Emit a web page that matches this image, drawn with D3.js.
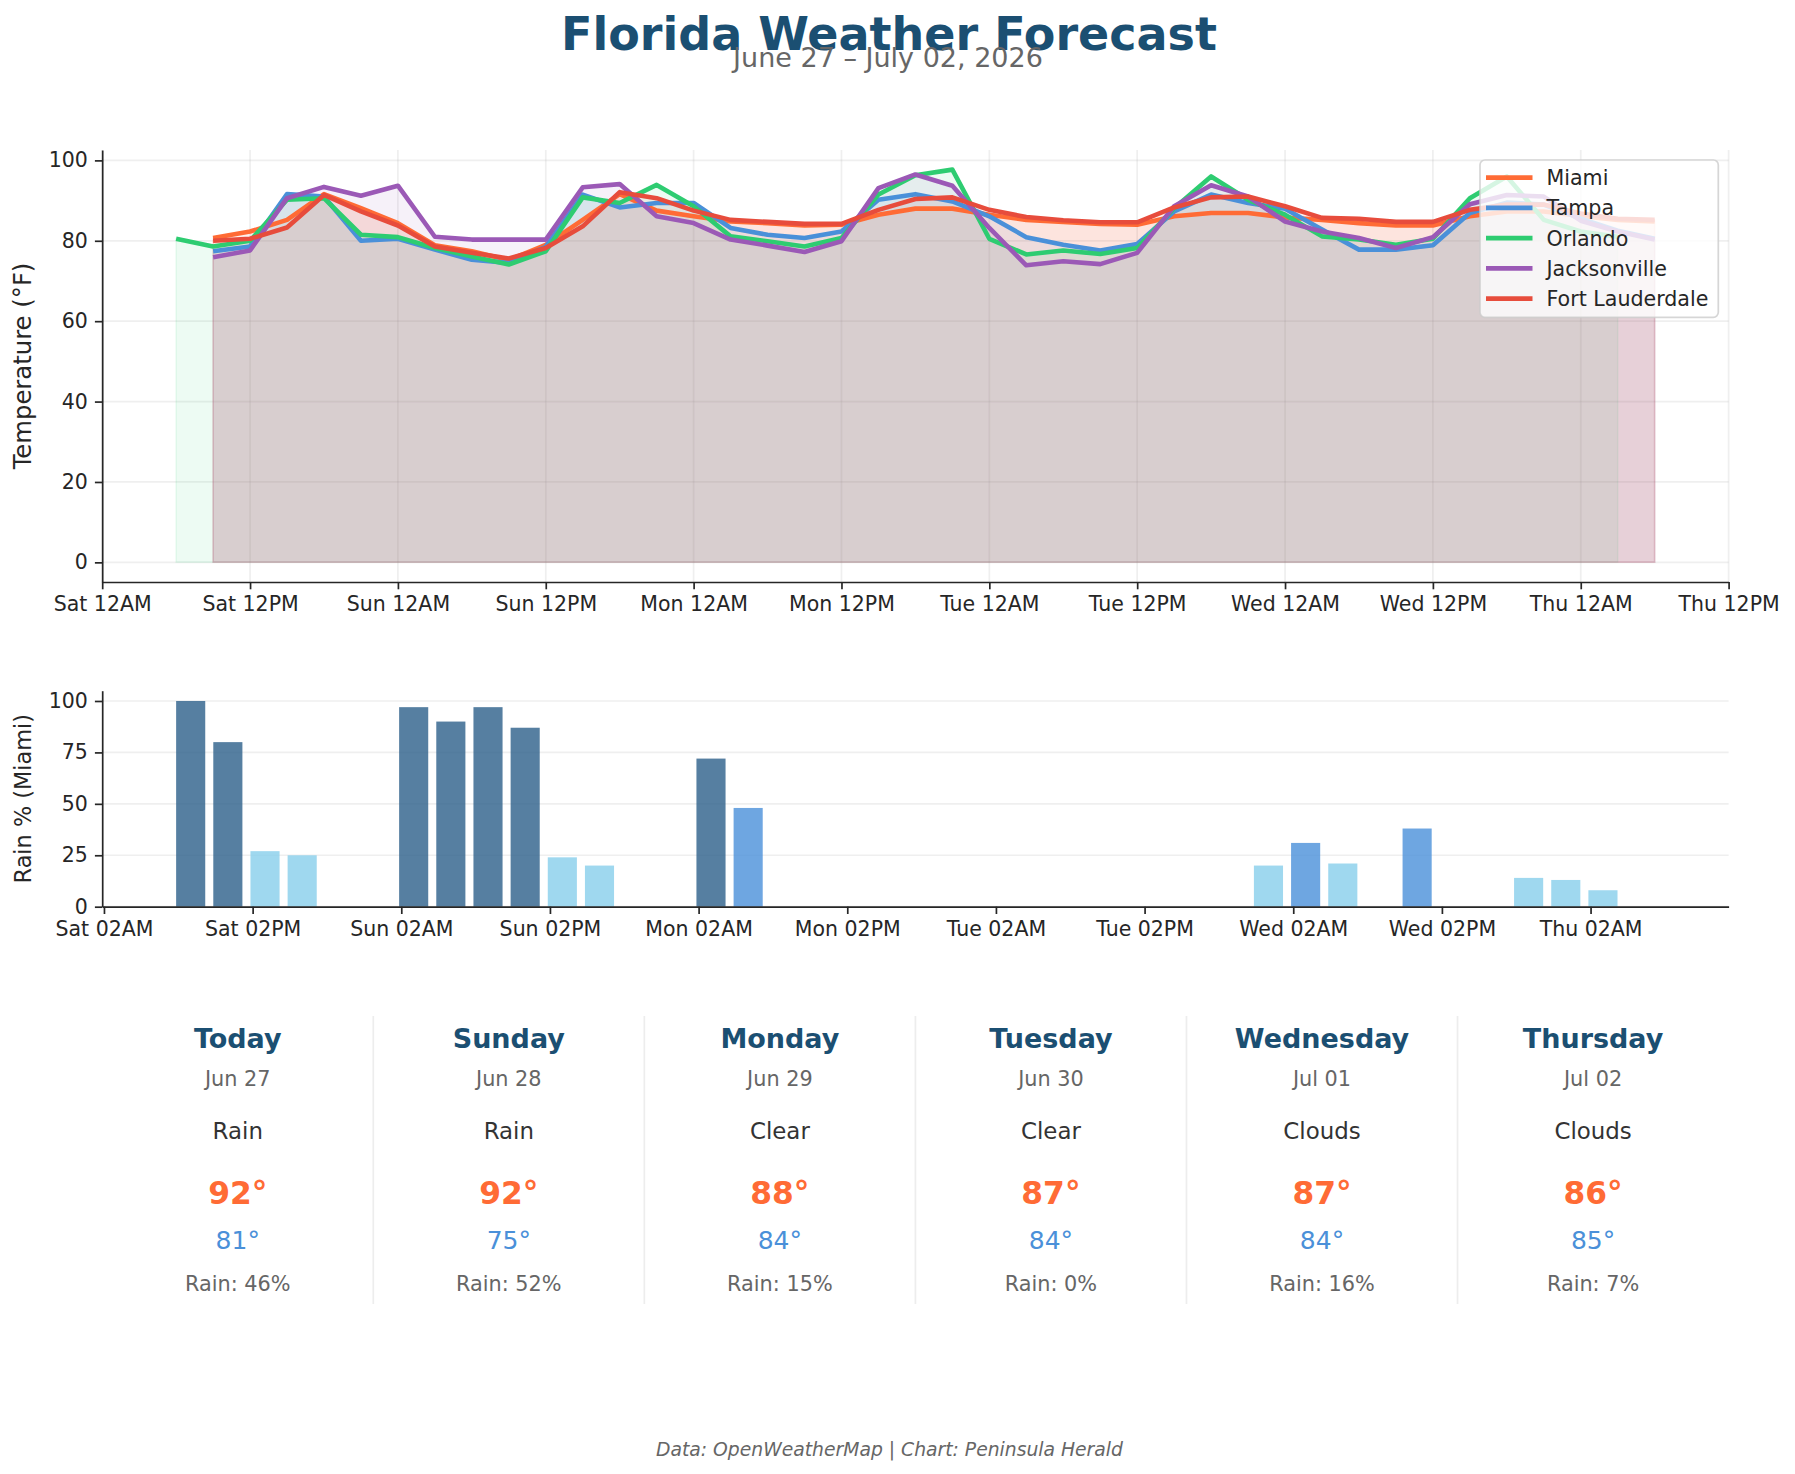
<!DOCTYPE html>
<html>
<head>
<meta charset="utf-8">
<script src="https://cdn.jsdelivr.net/npm/d3@7"></script>
<style>
    body { margin: 0; background: #fff; }
    svg { display: block; font-family: 'DejaVu Sans', sans-serif; }
</style>
</head>
<body>
<div id="canvas"></div>
<script>
// ---- data (hours counted from Sat Jun 27, 12AM) ----
let cities = ['Miami', 'Tampa', 'Orlando', 'Jacksonville', 'Fort Lauderdale']
let cityColors = ['#ff6b35', '#4a90d9', '#2ecc71', '#9b59b6', '#e74c3c']

let hoursMain = [9, 12, 15, 18, 21, 24, 27, 30, 33, 36, 39, 42, 45, 48, 51, 54, 57, 60, 63, 66,
    69, 72, 75, 78, 81, 84, 87, 90, 93, 96, 99, 102, 105, 108, 111, 114, 117, 120, 123, 126]
let hoursOrlando = [6, 9, 12, 15, 18, 21, 24, 27, 30, 33, 36, 39, 42, 45, 48, 51, 54, 57, 60, 63,
    66, 69, 72, 75, 78, 81, 84, 87, 90, 93, 96, 99, 102, 105, 108, 111, 114, 117, 120, 123]

let tempMiami = [80.7, 82.3, 85.2, 91.6, 88.1, 84.4, 78.9, 77.4, 75.2, 79.0, 85.2, 91.6, 87.5, 86.1,
    84.8, 84.4, 83.8, 84.0, 86.5, 88.0, 88.0, 86.5, 85.2, 84.7, 84.2, 84.0, 86.1, 86.9, 86.9, 85.8,
    85.2, 84.4, 83.8, 83.8, 86.1, 87.3, 87.3, 86.2, 85.2, 84.8]
let tempTampa = [77.4, 78.6, 91.6, 91.0, 80.0, 80.5, 77.8, 75.3, 74.5, 78.5, 91.5, 88.3, 89.4, 89.4,
    83.2, 81.5, 80.7, 82.3, 90.2, 91.6, 89.8, 86.1, 80.9, 79.0, 77.6, 79.2, 87.3, 91.5, 89.4, 88.0,
    82.8, 77.8, 77.8, 78.9, 86.9, 89.5, 89.0, 85.5, 82.5, 80.5]
let tempOrlando = [80.5, 78.6, 80.0, 90.2, 90.6, 81.5, 80.9, 78.2, 76.1, 74.1, 77.4, 90.8, 89.4, 93.9,
    88.6, 81.1, 79.9, 78.6, 80.7, 91.5, 96.3, 97.7, 80.5, 76.6, 77.6, 76.7, 78.2, 88.1, 96.0, 90.2,
    86.5, 81.1, 80.3, 79.0, 80.5, 90.6, 96.0, 85.2, 82.3, 81.0]
let tempJacksonville = [75.9, 77.6, 90.6, 93.4, 91.2, 93.7, 81.0, 80.3, 80.3, 80.3, 93.3, 94.1, 86.1,
    84.4, 80.3, 78.8, 77.2, 79.9, 93.1, 96.5, 93.7, 83.2, 73.9, 74.9, 74.2, 77.0, 88.6, 93.8, 91.0,
    84.8, 82.3, 80.7, 78.2, 80.9, 89.1, 91.4, 91.0, 85.0, 82.3, 80.3]
let tempFortLauderdale = [80.0, 80.5, 83.3, 91.4, 87.3, 83.8, 78.6, 77.0, 75.6, 78.2, 83.6, 92.1, 90.6,
    87.5, 85.2, 84.7, 84.2, 84.2, 87.7, 90.4, 90.8, 87.7, 85.9, 85.1, 84.6, 84.6, 88.3, 90.8, 91.0,
    88.6, 85.7, 85.5, 84.7, 84.7, 87.7, 89.0, 89.0, 86.8, 85.5, 85.2]

let rainMiami = [100, 80, 27, 25, 0, 0, 97, 90, 97, 87, 24, 20, 0, 0, 72, 48, 0, 0, 0, 0,
    0, 0, 0, 0, 0, 0, 0, 0, 0, 20, 31, 21, 0, 38, 0, 0, 14, 13, 8, 0]

let tempTickHours = [0, 12, 24, 36, 48, 60, 72, 84, 96, 108, 120, 132]
let tempTickLabels = ['Sat 12AM', 'Sat 12PM', 'Sun 12AM', 'Sun 12PM', 'Mon 12AM', 'Mon 12PM',
    'Tue 12AM', 'Tue 12PM', 'Wed 12AM', 'Wed 12PM', 'Thu 12AM', 'Thu 12PM']
let tempYTicks = [0, 20, 40, 60, 80, 100]

let rainTickHours = [2, 14, 26, 38, 50, 62, 74, 86, 98, 110, 122]
let rainTickLabels = ['Sat 02AM', 'Sat 02PM', 'Sun 02AM', 'Sun 02PM', 'Mon 02AM', 'Mon 02PM',
    'Tue 02AM', 'Tue 02PM', 'Wed 02AM', 'Wed 02PM', 'Thu 02AM']
let rainYTicks = [0, 25, 50, 75, 100]

let dayNames = ['Today', 'Sunday', 'Monday', 'Tuesday', 'Wednesday', 'Thursday']
let dayDates = ['Jun 27', 'Jun 28', 'Jun 29', 'Jun 30', 'Jul 01', 'Jul 02']
let dayConditions = ['Rain', 'Rain', 'Clear', 'Clear', 'Clouds', 'Clouds']
let dayHighs = [92, 92, 88, 87, 87, 86]
let dayLows = [81, 75, 84, 84, 84, 85]
let dayRain = [46, 52, 15, 0, 16, 7]

let series = [
    {hours: hoursMain, temps: tempMiami},
    {hours: hoursMain, temps: tempTampa},
    {hours: hoursOrlando, temps: tempOrlando},
    {hours: hoursMain, temps: tempJacksonville},
    {hours: hoursMain, temps: tempFortLauderdale},
]

// ---- layout ----
let width = 1795
let height = 1474
let left = 102.2
let right = 1728.6
let top1 = 150, bottom1 = 582
let top2 = 690.7, bottom2 = 906.7
let ink = '#262626'
let tickFont = '20.5px'

let svg = d3.select('#canvas').append('svg')
    .attr('width', width)
    .attr('height', height)

function styleAxis(g) {
    g.select('.domain').attr('stroke', ink).attr('stroke-width', 1.7)
    g.selectAll('.tick line').attr('stroke', ink).attr('stroke-width', 1.7)
    g.selectAll('.tick text')
        .attr('fill', ink)
        .style('font-size', tickFont)
        .style('font-family', 'DejaVu Sans')
}

// ---- temperature chart ----
let allHours = hoursMain.concat(hoursOrlando)
let hMin = d3.min(allHours), hMax = d3.max(allHours)
let hPad = (hMax - hMin) * 0.05
let x1 = d3.scaleLinear().domain([hMin - hPad, hMax + hPad]).range([left, right])

let tMax = d3.max(series, (s) => d3.max(s.temps))
let y1 = d3.scaleLinear().domain([-tMax * 0.05, tMax * 1.05]).range([bottom1, top1])

let g1 = svg.append('g')

// grid
g1.append('g').selectAll('line').data(tempYTicks).enter().append('line')
    .attr('x1', left).attr('x2', right)
    .attr('y1', (d) => y1(d)).attr('y2', (d) => y1(d))
    .attr('stroke', '#b0b0b0').attr('stroke-opacity', 0.2).attr('stroke-width', 1.7)
g1.append('g').selectAll('line').data(tempTickHours).enter().append('line')
    .attr('x1', (d) => x1(d)).attr('x2', (d) => x1(d))
    .attr('y1', top1).attr('y2', bottom1)
    .attr('stroke', '#b0b0b0').attr('stroke-opacity', 0.2).attr('stroke-width', 1.7)

let area = d3.area()
    .x((d) => x1(d[0]))
    .y0(y1(0))
    .y1((d) => y1(d[1]))

let line = d3.line()
    .x((d) => x1(d[0]))
    .y((d) => y1(d[1]))

series.forEach(function (s, i) {
    let pts = s.hours.map((h, j) => [h, s.temps[j]])
    g1.append('path')
        .attr('d', area(pts))
        .attr('fill', cityColors[i])
        .attr('fill-opacity', 0.085)
        .attr('stroke', cityColors[i])
        .attr('stroke-opacity', 0.1)
        .attr('stroke-width', 1.5)
})

series.forEach(function (s, i) {
    let pts = s.hours.map((h, j) => [h, s.temps[j]])
    g1.append('path')
        .attr('d', line(pts))
        .attr('fill', 'none')
        .attr('stroke', cityColors[i])
        .attr('stroke-width', 4.6)
        .attr('stroke-linejoin', 'round')
})

g1.append('g')
    .attr('transform', 'translate(0,' + bottom1 + ')')
    .call(d3.axisBottom(x1).tickValues(tempTickHours)
        .tickFormat((d, i) => tempTickLabels[i])
        .tickSize(7.3).tickPadding(7).tickSizeOuter(0))
    .call(styleAxis)

g1.append('g')
    .attr('transform', 'translate(' + left + ',0)')
    .call(d3.axisLeft(y1).tickValues(tempYTicks)
        .tickSize(7.3).tickPadding(7).tickSizeOuter(0))
    .call(styleAxis)

svg.append('text')
    .attr('transform', 'translate(31,' + (top1 + bottom1) / 2 + ') rotate(-90)')
    .attr('text-anchor', 'middle')
    .attr('fill', ink)
    .style('font-size', '24.3px')
    .text('Temperature (°F)')

// legend
let lg = svg.append('g')
lg.append('rect')
    .attr('x', 1480).attr('y', 160)
    .attr('width', 238.3).attr('height', 157.3)
    .attr('rx', 5)
    .attr('fill', 'white').attr('fill-opacity', 0.8)
    .attr('stroke', '#cccccc').attr('stroke-opacity', 0.8).attr('stroke-width', 1.7)
cities.forEach(function (c, i) {
    let cy = 177.6 + i * 30.25
    lg.append('line')
        .attr('x1', 1486).attr('x2', 1532.5)
        .attr('y1', cy).attr('y2', cy)
        .attr('stroke', cityColors[i]).attr('stroke-width', 4.6)
    lg.append('text')
        .attr('x', 1546.5).attr('y', cy + 7.4)
        .attr('fill', ink)
        .style('font-size', '20.6px')
        .text(c)
})

// ---- rain chart ----
let barW = 2.35
let bMin = d3.min(hoursMain) - barW / 2, bMax = d3.max(hoursMain) + barW / 2
let bPad = (bMax - bMin) * 0.05
let x2 = d3.scaleLinear().domain([bMin - bPad, bMax + bPad]).range([left, right])
let y2 = d3.scaleLinear().domain([0, 105]).range([bottom2, top2])

let g2 = svg.append('g')
g2.append('g').selectAll('line').data(rainYTicks).enter().append('line')
    .attr('x1', left).attr('x2', right)
    .attr('y1', (d) => y2(d)).attr('y2', (d) => y2(d))
    .attr('stroke', '#b0b0b0').attr('stroke-opacity', 0.2).attr('stroke-width', 1.7)

let rainColor = function (v) {
    if (v > 50) return '#2c5f8a'
    if (v >= 30) return '#4a90d9'
    return '#87ceeb'
}

g2.append('g').selectAll('rect')
    .data(hoursMain.map((h, i) => [h, rainMiami[i]]).filter((d) => d[1] > 0))
    .enter().append('rect')
    .attr('x', (d) => x2(d[0] - barW / 2))
    .attr('width', (d) => x2(d[0] + barW / 2) - x2(d[0] - barW / 2))
    .attr('y', (d) => y2(d[1]))
    .attr('height', (d) => y2(0) - y2(d[1]))
    .attr('fill', (d) => rainColor(d[1]))
    .attr('fill-opacity', 0.8)

g2.append('g')
    .attr('transform', 'translate(0,' + bottom2 + ')')
    .call(d3.axisBottom(x2).tickValues(rainTickHours)
        .tickFormat((d, i) => rainTickLabels[i])
        .tickSize(7.3).tickPadding(7).tickSizeOuter(0))
    .call(styleAxis)

g2.append('g')
    .attr('transform', 'translate(' + left + ',0)')
    .call(d3.axisLeft(y2).tickValues(rainYTicks)
        .tickSize(7.3).tickPadding(7).tickSizeOuter(0))
    .call(styleAxis)

svg.append('text')
    .attr('transform', 'translate(31,' + (top2 + bottom2) / 2 + ') rotate(-90)')
    .attr('text-anchor', 'middle')
    .attr('fill', ink)
    .style('font-size', '22.4px')
    .text('Rain % (Miami)')

// ---- titles ----
svg.append('text')
    .attr('x', 889).attr('y', 49.5)
    .attr('text-anchor', 'middle')
    .attr('fill', '#1b4f72')
    .style('font-size', '46px')
    .style('font-weight', 'bold')
    .text('Florida Weather Forecast')

svg.append('text')
    .attr('x', 888).attr('y', 66.7)
    .attr('text-anchor', 'middle')
    .attr('fill', '#666666')
    .style('font-size', '27px')
    .text('June 27 – July 02, 2026')

// ---- daily summary ----
let colW = (right - left) / dayNames.length
let sg = svg.append('g')
sg.selectAll('line').data(d3.range(1, dayNames.length)).enter().append('line')
    .attr('x1', (d) => left + d * colW).attr('x2', (d) => left + d * colW)
    .attr('y1', 1016).attr('y2', 1304)
    .attr('stroke', '#e6e6e6').attr('stroke-opacity', 0.7).attr('stroke-width', 1.7)

let cards = sg.selectAll('g.card').data(dayNames).enter().append('g')
    .attr('class', 'card')
    .attr('transform', (d, i) => 'translate(' + (left + colW * (i + 0.5)) + ',0)')
    .attr('text-anchor', 'middle')

cards.append('text').attr('y', 1047.5)
    .attr('fill', '#1b4f72').style('font-size', '27px').style('font-weight', 'bold')
    .text((d) => d)
cards.append('text').attr('y', 1086)
    .attr('fill', '#666666').style('font-size', '20.8px')
    .text((d, i) => dayDates[i])
cards.append('text').attr('y', 1138.5)
    .attr('fill', '#333333').style('font-size', '22.9px')
    .text((d, i) => dayConditions[i])
cards.append('text').attr('y', 1203.5)
    .attr('fill', '#ff6b35').style('font-size', '31.3px').style('font-weight', 'bold')
    .text((d, i) => dayHighs[i] + '°')
cards.append('text').attr('y', 1248.5)
    .attr('fill', '#4a90d9').style('font-size', '25px')
    .text((d, i) => dayLows[i] + '°')
cards.append('text').attr('y', 1291)
    .attr('fill', '#666666').style('font-size', '20.8px')
    .text((d, i) => 'Rain: ' + dayRain[i] + '%')

svg.append('text')
    .attr('x', 889.5).attr('y', 1456)
    .attr('text-anchor', 'middle')
    .attr('fill', '#666666')
    .style('font-size', '18.75px')
    .style('font-style', 'italic')
    .text('Data: OpenWeatherMap | Chart: Peninsula Herald')
</script>
</body>
</html>
